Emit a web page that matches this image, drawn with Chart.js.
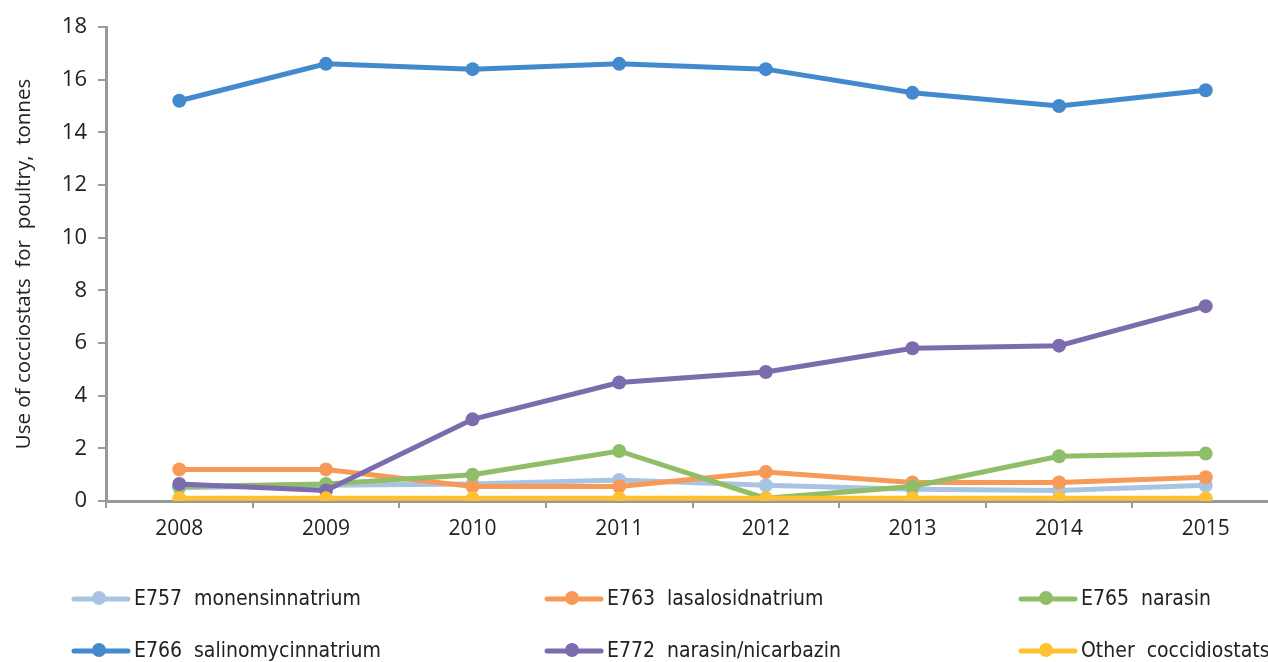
<!DOCTYPE html>
<html>
<head>
<meta charset="utf-8">
<script src="https://cdn.jsdelivr.net/npm/chart.js@4"></script>
<style>
  html, body { margin: 0; padding: 0; background: #fff; overflow: hidden; }
  canvas { display: block; }
</style>
</head>
<body>
<canvas id="coccidiostats" width="1290" height="662"></canvas>
<script>
// values (tonnes)
const years = ['2008', '2009', '2010', '2011', '2012', '2013', '2014', '2015'];
const e757 = [0.5, 0.6, 0.65, 0.8, 0.6, 0.45, 0.4, 0.6];
const e763 = [1.2, 1.2, 0.55, 0.55, 1.1, 0.7, 0.7, 0.9];
const e765 = [0.55, 0.65, 1.0, 1.9, 0.1, 0.55, 1.7, 1.8];
const e766 = [15.2, 16.6, 16.4, 16.6, 16.4, 15.5, 15.0, 15.6];
const e772 = [0.65, 0.4, 3.1, 4.5, 4.9, 5.8, 5.9, 7.4];
const other = [0.1, 0.1, 0.1, 0.1, 0.1, 0.1, 0.1, 0.1];
const seriesNames = ['E757  monensinnatrium', 'E763  lasalosidnatrium', 'E765  narasin',
  'E766  salinomycinnatrium', 'E772  narasin/nicarbazin', 'Other  coccidiostats'];
const yTicks = [0, 2, 4, 6, 8, 10, 12, 14, 16, 18];

const colors = ['#a9c4e3', '#f79a58', '#8fbd68', '#4389cd', '#7c6bad', '#fdc132'];
const values = [e757, e763, e765, e766, e772, other];

const datasets = values.map((v, i) => ({
  label: seriesNames[i],
  data: v,
  borderColor: colors[i],
  backgroundColor: colors[i],
  borderWidth: 5,
  pointRadius: 7,
  pointBorderWidth: 0,
  pointBackgroundColor: colors[i],
  tension: 0,
  order: values.length - i
}));

// legend in a 3 x 2 grid, like the original
const gridLegend = {
  id: 'gridLegend',
  afterDraw(chart) {
    const ctx = chart.ctx;
    const cols = [72, 545, 1019];
    const rows = [599, 651];
    chart.data.datasets.forEach((ds, i) => {
      const x = cols[i % 3];
      const y = rows[Math.floor(i / 3)];
      ctx.save();
      ctx.strokeStyle = ds.borderColor;
      ctx.lineWidth = 5;
      ctx.lineCap = 'round';
      ctx.beginPath();
      ctx.moveTo(x + 2, y);
      ctx.lineTo(x + 56, y);
      ctx.stroke();
      ctx.fillStyle = ds.borderColor;
      ctx.beginPath();
      ctx.arc(x + 27, y - 1, 7, 0, Math.PI * 2);
      ctx.fill();
      ctx.font = '21px "DejaVu Sans Condensed", "Liberation Sans Narrow", sans-serif';
      ctx.fillStyle = '#222';
      ctx.textBaseline = 'middle';
      ctx.fillText(ds.label, x + 62, y + 1);
      ctx.restore();
    });
  }
};

new Chart(document.getElementById('coccidiostats'), {
  type: 'line',
  data: { labels: years, datasets: datasets },
  plugins: [gridLegend],
  options: {
    responsive: false,
    animation: false,
    layout: { padding: { top: 27, right: 11, bottom: 0, left: 0 } },
    plugins: {
      legend: { display: false },
      tooltip: { enabled: false }
    },
    scales: {
      x: {
        offset: true,
        afterFit: s => { s.height = 161; },
        grid: { offset: true, drawOnChartArea: false, tickLength: 7, color: '#999', lineWidth: 2 },
        border: { color: '#999', width: 3 },
        ticks: { color: '#222', padding: 8, font: { family: '"Open Sans"', size: 21 } }
      },
      y: {
        min: 0,
        max: 18,
        afterFit: s => { s.width = 106; },
        afterBuildTicks: s => { s.ticks = yTicks.map(v => ({ value: v })); },
        grid: { drawOnChartArea: false, tickLength: 8, color: '#999', lineWidth: 2 },
        border: { color: '#999', width: 3 },
        ticks: { color: '#222', padding: 11, font: { family: '"Open Sans"', size: 22 } },
        title: {
          display: true,
          text: 'Use of cocciostats  for  poultry,  tonnes',
          color: '#222',
          padding: { top: 12, bottom: 0 },
          font: { family: '"Open Sans"', size: 20.5 }
        }
      }
    }
  }
});
</script>
</body>
</html>
